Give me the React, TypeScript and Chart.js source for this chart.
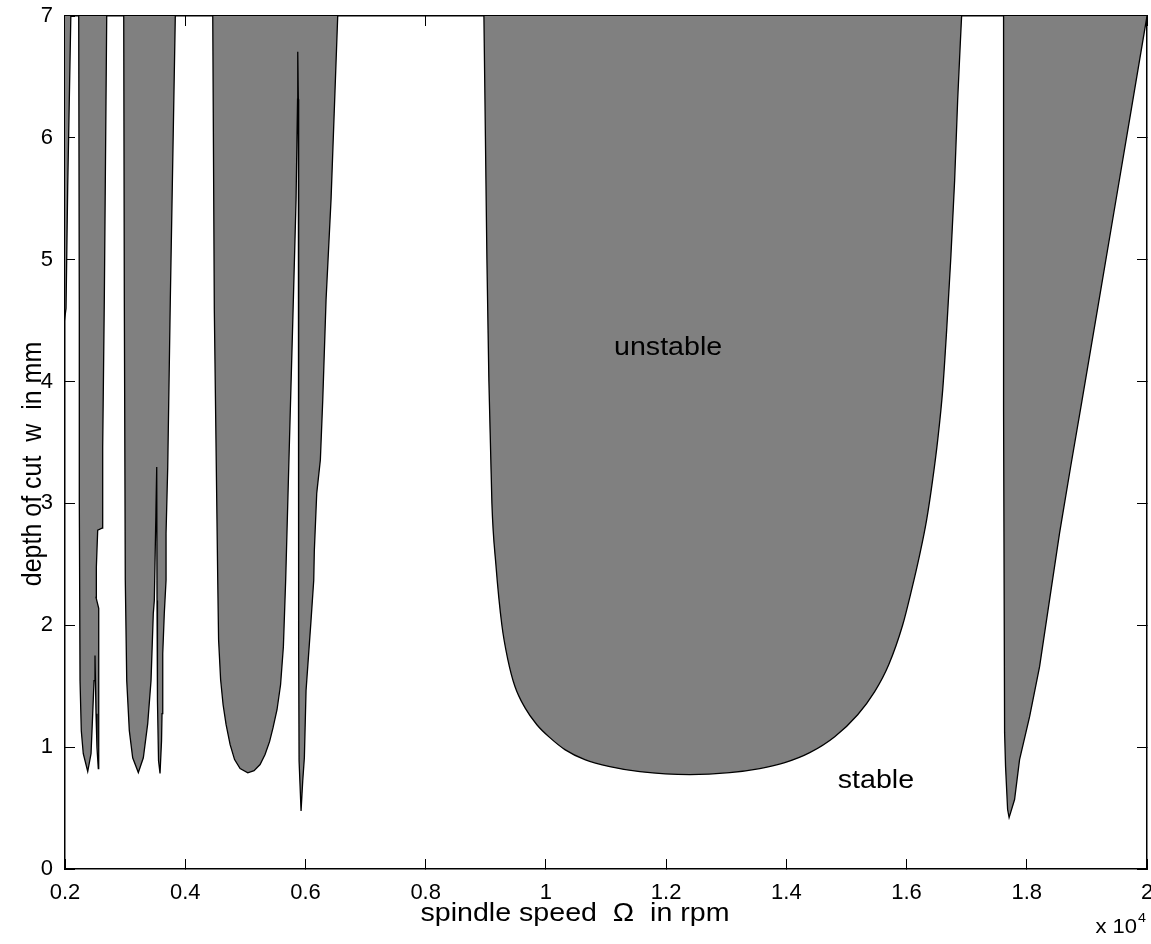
import React, { useEffect, useRef } from 'react';
import { Chart, registerables } from 'chart.js';

Chart.register(...registerables);

// ---------- axis ticks ----------
const xTicks = [0.2, 0.4, 0.6, 0.8, 1, 1.2, 1.4, 1.6, 1.8, 2];
const yTicks = [0, 1, 2, 3, 4, 5, 6, 7];

// ---------- unstable lobes (boundary traced from top-left, down, back up to top-right) ----------
const lobeAX = [0.199, 0.199, 0.2017, 0.2045, 0.2075, 0.2097];
const lobeAY = [7, 4.5, 4.6, 5.6, 6.4, 7];

const lobeBX = [0.2228, 0.2238, 0.2238, 0.225, 0.2271, 0.2304, 0.2378, 0.2433, 0.2461, 0.2483, 0.2499, 0.2516, 0.2532, 0.2554, 0.2561, 0.2561, 0.2516, 0.2516, 0.2527, 0.2544, 0.2616, 0.2627, 0.2654, 0.2694];
const lobeBY = [7, 4.59, 3.027, 1.546, 1.135, 0.946, 0.8, 0.946, 1.275, 1.546, 1.752, 1.275, 0.995, 0.823, 1.275, 2.139, 2.229, 2.369, 2.476, 2.78, 2.797, 3.463, 4.672, 7];
const innerBX = [0.2554, 0.2616];
const innerBY = [3.463, 2.797];

const lobeCX = [0.2977, 0.2987, 0.3003, 0.3027, 0.307, 0.3126, 0.322, 0.3303, 0.3376, 0.3431, 0.3469, 0.3486, 0.3526, 0.3531, 0.3538, 0.3556, 0.3581, 0.3606, 0.3614, 0.3626, 0.3652, 0.3681, 0.3681, 0.3709, 0.3752, 0.3835];
const lobeCY = [7, 4.672, 2.369, 1.546, 1.135, 0.913, 0.792, 0.913, 1.193, 1.546, 2.098, 2.204, 3.298, 2.204, 1.382, 0.888, 0.784, 1.053, 1.275, 1.769, 2.098, 2.369, 2.756, 3.298, 4.672, 7];
const innerCX = [0.3586, 0.3576];
const innerCY = [5.289, 4.656];

const lobeDX = [0.4458, 0.4484, 0.4541, 0.4555, 0.4589, 0.463, 0.468, 0.4747, 0.4821, 0.4913, 0.5041, 0.5145, 0.5245, 0.5328, 0.5403, 0.5461, 0.5527, 0.5586, 0.5633, 0.5671, 0.573, 0.579, 0.5844, 0.5869, 0.5872, 0.5882, 0.5885, 0.5889, 0.5894, 0.5927, 0.5955, 0.5982, 0.601, 0.6093, 0.6138, 0.6148, 0.6188, 0.6248, 0.6288, 0.6343, 0.6426, 0.6537];
const lobeDY = [7, 4.59, 2.369, 1.881, 1.553, 1.348, 1.184, 1.02, 0.898, 0.824, 0.789, 0.807, 0.857, 0.939, 1.045, 1.16, 1.307, 1.512, 1.824, 2.369, 3.438, 4.508, 5.495, 6.317, 6.706, 6.317, 4.672, 1.793, 0.888, 0.477, 0.724, 0.913, 1.464, 2.04, 2.369, 2.616, 3.085, 3.356, 3.85, 4.672, 5.495, 7];

const lobeEX = [0.8969, 0.8994, 0.9019, 0.9052, 0.9102, 0.9168, 0.9268, 0.9368, 0.9484, 0.9651, 0.985, 1.0066, 1.0316, 1.0648, 1.1064, 1.1563, 1.2394, 1.3059, 1.3558, 1.3974, 1.4389, 1.4805, 1.5187, 1.547, 1.5703, 1.5934, 1.6084, 1.6218, 1.6334, 1.6434, 1.6518, 1.6601, 1.6667, 1.6734, 1.68, 1.685, 1.6916];
const lobeEY = [7, 6, 5, 4, 3, 2.5, 2, 1.717, 1.5, 1.324, 1.184, 1.078, 0.98, 0.898, 0.84, 0.799, 0.775, 0.791, 0.824, 0.873, 0.955, 1.086, 1.266, 1.455, 1.676, 2.0, 2.291, 2.578, 2.865, 3.193, 3.52, 3.93, 4.422, 4.996, 5.652, 6.307, 7];

const lobeFX = [1.7614, 1.7614, 1.7631, 1.7647, 1.7681, 1.7706, 1.7797, 1.788, 1.8047, 1.8213, 1.8379, 1.8546, 1.8729, 1.892, 1.9174, 1.9455, 1.9736, 2.0];
const lobeFY = [7, 3.766, 1.119, 0.84, 0.488, 0.422, 0.57, 0.898, 1.25, 1.66, 2.209, 2.758, 3.299, 3.848, 4.586, 5.406, 6.225, 7];

// ---------- text labels ----------
const regionLabels = [
  { text: 'unstable', x: 1.2033, y: 4.28 },
  { text: 'stable', x: 1.549, y: 0.724 },
];
const xTitle = 'spindle speed  Ω  in rpm';
const yTitle = 'depth of cut  w  in mm';
const xExponentBase = 'x 10';
const xExponent = '4';

const FONT = '"Liberation Sans", Arial, Helvetica, sans-serif';
const GRAY = '#808080';
const STRETCH = 1.1;

function pts(xs: number[], ys: number[]) {
  return xs.map((x, i) => ({ x, y: ys[i] }));
}

function lobe(xs: number[], ys: number[], smooth = false) {
  return {
    data: pts(xs, ys),
    showLine: true,
    fill: 'shape',
    backgroundColor: GRAY,
    borderColor: '#000',
    borderWidth: 1.3,
    pointRadius: 0,
    pointHoverRadius: 0,
    tension: smooth ? 0.4 : 0,
    cubicInterpolationMode: smooth ? 'monotone' : 'default',
  };
}

function innerLine(xs: number[], ys: number[]) {
  return {
    data: pts(xs, ys),
    showLine: true,
    fill: false,
    borderColor: '#000',
    borderWidth: 2,
    pointRadius: 0,
    pointHoverRadius: 0,
    tension: 0,
  };
}

function stretchedText(ctx: CanvasRenderingContext2D, text: string, x: number, y: number) {
  ctx.save();
  ctx.translate(x, y);
  ctx.scale(STRETCH, 1);
  ctx.fillText(text, 0, 0);
  ctx.restore();
}

const textPlugin = {
  id: 'textPlugin',
  afterDraw(chart: any) {
    const { ctx, chartArea } = chart;
    const xs = chart.scales.x;
    const ys = chart.scales.y;
    ctx.save();
    ctx.fillStyle = '#000';
    ctx.font = `26px ${FONT}`;
    ctx.textAlign = 'center';
    ctx.textBaseline = 'middle';
    regionLabels.forEach((l) => {
      stretchedText(ctx, l.text, xs.getPixelForValue(l.x), ys.getPixelForValue(l.y));
    });
    // x title
    ctx.font = `26px ${FONT}`;
    ctx.textBaseline = 'alphabetic';
    stretchedText(ctx, xTitle, chartArea.left + 510, chartArea.bottom + 52);
    // y title
    ctx.save();
    ctx.translate(chartArea.left - 32, chartArea.top + 448);
    ctx.rotate(-Math.PI / 2);
    ctx.scale(1, STRETCH);
    ctx.font = `25px ${FONT}`;
    ctx.textBaseline = 'middle';
    ctx.fillText(yTitle, 0, 0);
    ctx.restore();
    // exponent
    ctx.textAlign = 'right';
    ctx.textBaseline = 'alphabetic';
    ctx.font = `20px ${FONT}`;
    stretchedText(ctx, xExponentBase, chartArea.right - 10, chartArea.bottom + 64);
    ctx.textAlign = 'left';
    ctx.font = `13px ${FONT}`;
    stretchedText(ctx, xExponent, chartArea.right - 9, chartArea.bottom + 53);
    ctx.restore();
  },
};

function axis(position: string, min: number, max: number, ticks: number[], size: number, showLabels: boolean, padding: number) {
  const horizontal = position === 'top' || position === 'bottom';
  return {
    type: 'linear',
    position,
    min,
    max,
    afterBuildTicks: (s: any) => {
      s.ticks = ticks.map((v) => ({ value: v }));
    },
    afterFit: (s: any) => {
      if (horizontal) s.height = size;
      else s.width = size;
      s.paddingTop = 0;
      s.paddingBottom = 0;
      s.paddingLeft = 0;
      s.paddingRight = 0;
    },
    grid: {
      display: true,
      drawOnChartArea: false,
      drawTicks: true,
      tickLength: -10,
      color: '#000',
      lineWidth: 1,
    },
    border: { display: true, color: '#000', width: 1.5 },
    ticks: {
      display: showLabels,
      color: '#000',
      font: { family: FONT, size: 22 },
      padding,
      maxRotation: 0,
      autoSkip: false,
      callback: (v: any) => String(Math.round(Number(v) * 10) / 10),
    },
  };
}

export default function App() {
  const ref = useRef<HTMLCanvasElement | null>(null);
  useEffect(() => {
    document.body.style.margin = '0';
    if (!ref.current) return;
    const chart = new Chart(ref.current, {
      type: 'scatter',
      data: {
        datasets: [
          lobe(lobeAX, lobeAY),
          lobe(lobeBX, lobeBY),
          lobe(lobeCX, lobeCY),
          lobe(lobeDX, lobeDY),
          lobe(lobeEX, lobeEY, true),
          lobe(lobeFX, lobeFY),
          innerLine(innerBX, innerBY),
          innerLine(innerCX, innerCY),
        ] as any,
      },
      options: {
        animation: false,
        responsive: false,
        maintainAspectRatio: false,
        devicePixelRatio: 1,
        layout: { padding: 0 },
        plugins: { legend: { display: false }, tooltip: { enabled: false }, title: { display: false } },
        scales: {
          x: axis('bottom', 0.2, 2, xTicks, 75, true, 21),
          x2: axis('top', 0.2, 2, xTicks, 16, false, 0),
          y: axis('left', 0, 7, yTicks, 65, true, 22),
          y2: axis('right', 0, 7, yTicks, 4, false, 0),
        } as any,
      },
      plugins: [textPlugin],
    });
    return () => chart.destroy();
  }, []);
  return <canvas ref={ref} width={1151} height={944} style={{ display: 'block' }} />;
}
